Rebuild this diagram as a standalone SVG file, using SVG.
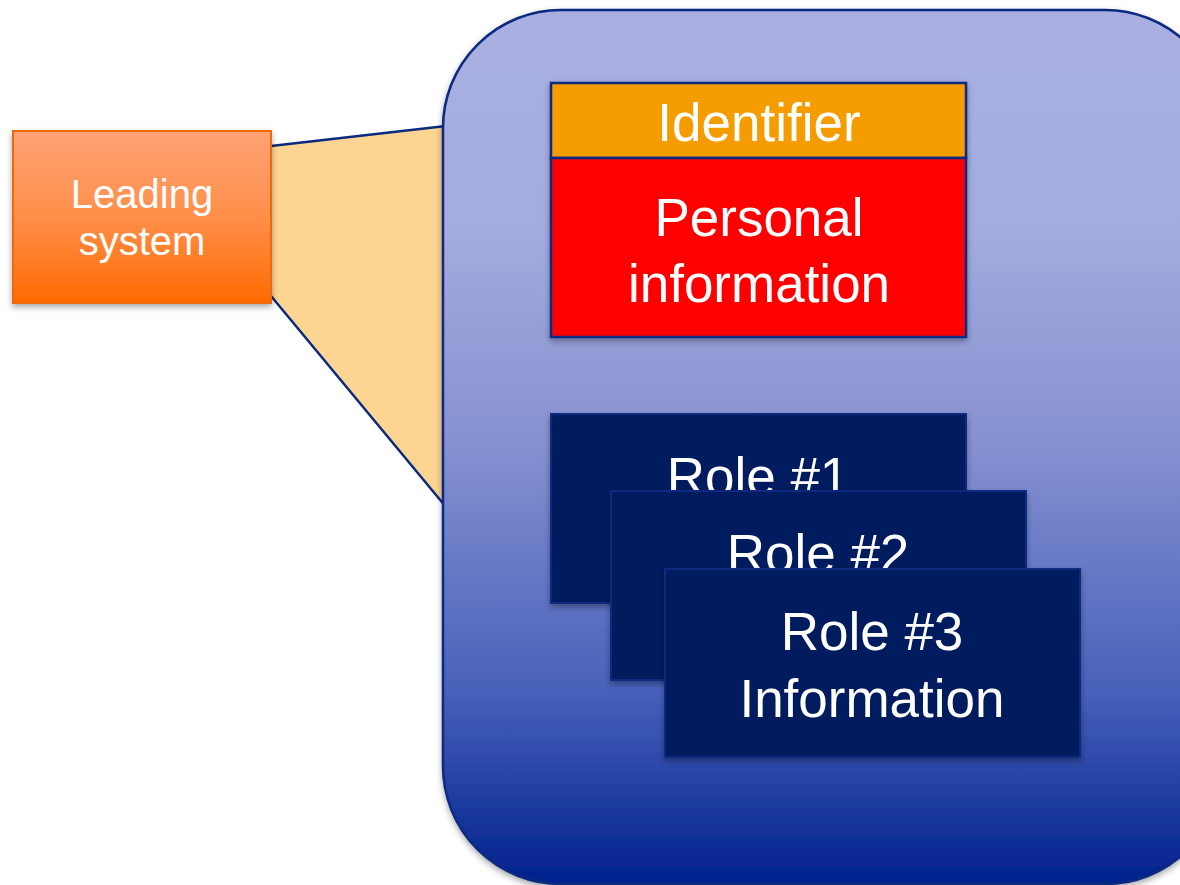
<svg xmlns="http://www.w3.org/2000/svg" width="1180" height="885" viewBox="0 0 1180 885">
<defs>
<linearGradient id="gBig" x1="0" y1="0" x2="0" y2="1">
<stop offset="0" stop-color="#A9B0E1"/>
<stop offset="0.25" stop-color="#A4ACDF"/>
<stop offset="0.5" stop-color="#8591D0"/>
<stop offset="0.78" stop-color="#4761BA"/>
<stop offset="1" stop-color="#00208C"/>
</linearGradient>
<linearGradient id="gLead" x1="0" y1="0" x2="0" y2="1">
<stop offset="0" stop-color="#FFA275"/>
<stop offset="0.5" stop-color="#FF8F4A"/>
<stop offset="1" stop-color="#FF6A00"/>
</linearGradient>
<filter id="sh" x="-10%" y="-10%" width="120%" height="125%">
<feDropShadow dx="0" dy="3" stdDeviation="3" flood-color="#000" flood-opacity="0.35"/>
</filter>
<style>
.t{font-family:"Liberation Sans",Arial,sans-serif;fill:#fff;text-anchor:middle}
.role{fill:#001A5E;stroke:#0A2A80;stroke-width:2;filter:url(#sh)}
.nv{stroke:#0A2A80;stroke-width:2.5}
</style>
</defs>
<g id="connectors">
<path d="M271,146 L446,126 L446,507 L271,296 Z" fill="#FDD593" stroke="none"/>
<path d="M271,146 L446,126 M271,296 L446,507" fill="none" stroke="#0A2A80" stroke-width="2.5"/>
</g>
<g id="leading-system">
<rect x="13" y="131" width="258" height="172" fill="url(#gLead)" stroke="#EC6A10" stroke-width="2" filter="url(#sh)"/>
<text class="t" x="142" y="208" font-size="40">Leading</text>
<text class="t" x="142" y="255" font-size="40">system</text>
</g>
<g id="container">
<rect x="443" y="10" width="780" height="874" rx="118" ry="118" fill="url(#gBig)" class="nv" filter="url(#sh)"/>
</g>
<g id="identifier-personal" filter="url(#sh)">
<rect x="551" y="83" width="415" height="75" fill="#F59D00" class="nv"/>
<rect x="551" y="158" width="415" height="179" fill="#FF0000" class="nv"/>
<text class="t" x="759" y="141" font-size="53">Identifier</text>
<text class="t" x="759" y="236" font-size="53">Personal</text>
<text class="t" x="759" y="302" font-size="53">information</text>
</g>
<g id="role1">
<rect class="role" x="551" y="414" width="415" height="189"/>
<text class="t" x="758" y="495" font-size="53">Role #1</text>
</g>
<g id="role2">
<rect class="role" x="611" y="491" width="415" height="189"/>
<text class="t" x="818" y="572" font-size="53">Role #2</text>
</g>
<g id="role3">
<rect class="role" x="665" y="569" width="415" height="188"/>
<text class="t" x="872" y="650" font-size="53">Role #3</text>
<text class="t" x="872" y="717" font-size="53">Information</text>
</g>
</svg>
